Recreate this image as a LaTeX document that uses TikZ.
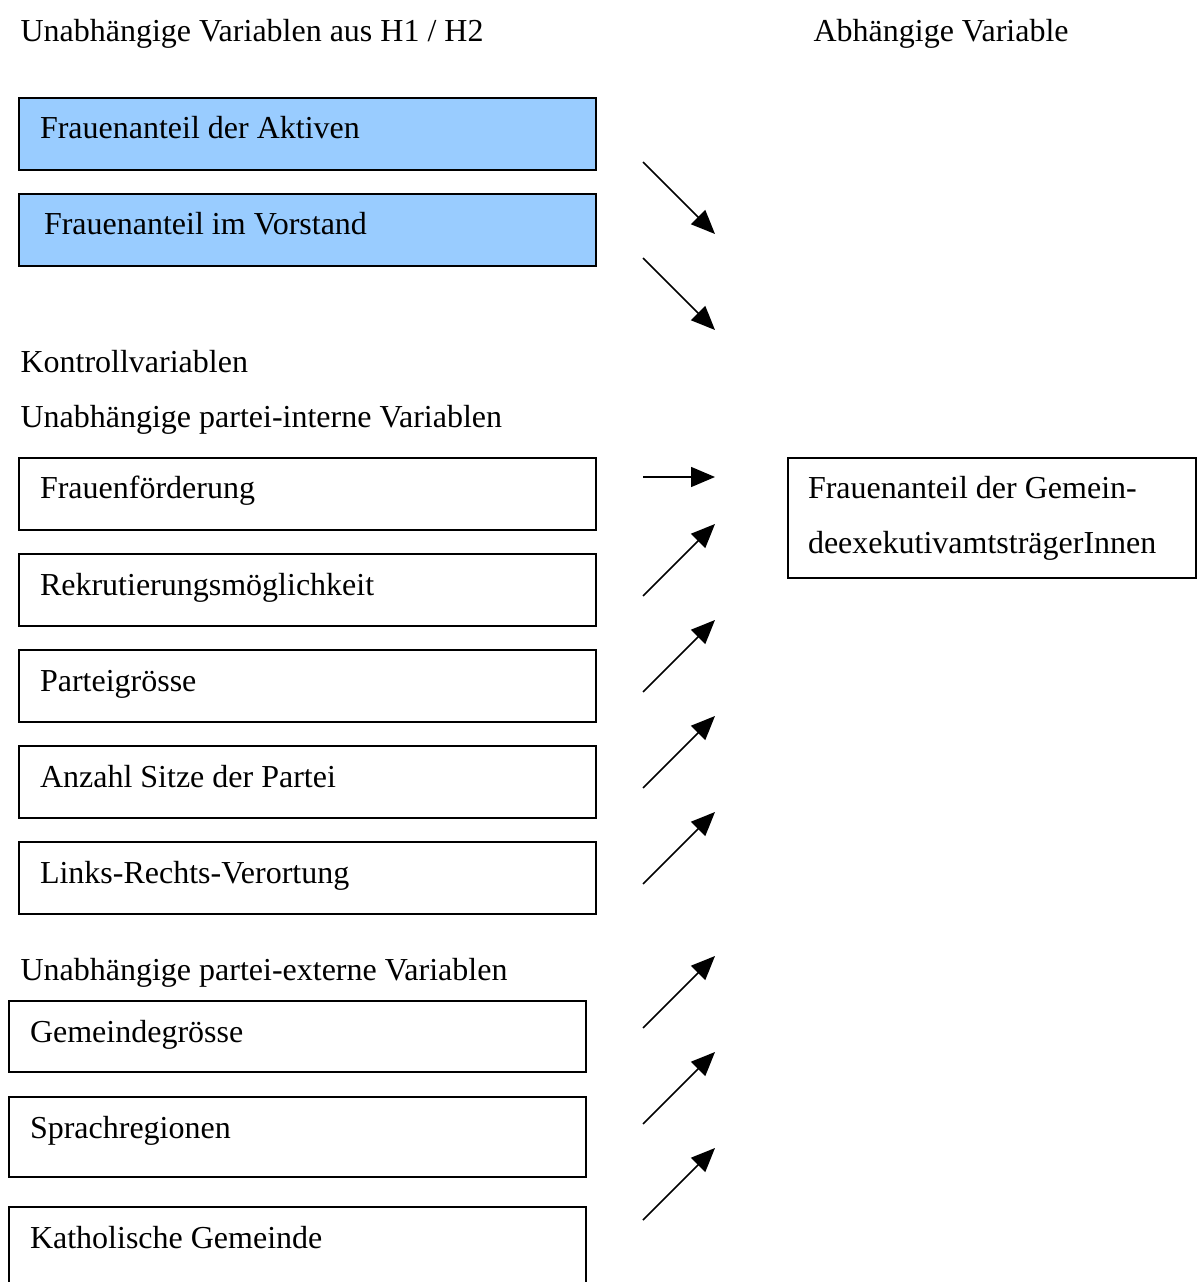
\documentclass[tikz,border=0pt]{standalone}
\usepackage{fontspec}
\setmainfont{Liberation Serif}
\usetikzlibrary{arrows.meta}

\definecolor{hypblue}{HTML}{99CCFF}

% 1 px of the layout = 0.375pt
\tikzset{
  varbox/.style={draw, line width=0.75pt, anchor=north west, outer sep=0pt,
    inner xsep=7.875pt, inner ysep=0pt, text width=200.625pt, align=flush left,
    text height=15.375pt, text depth=11.625pt},
  hyp/.style={varbox, fill=hypblue},
  heading/.style={anchor=base west, inner sep=0pt},
  effect/.style={line width=0.56pt, -{Triangle[length=9pt, width=7.5pt]}}
}

\begin{document}
\begin{tikzpicture}[x=0.375pt, y=-0.375pt, font=\fontsize{12pt}{14.4pt}\selectfont]
    \useasboundingbox (0, 0) rectangle (1197, 1282);
    \clip (0, 0) rectangle (1197, 1282);

    \node[heading] (unabh) at (20, 42) {Unabhängige Variablen aus H1 / H2};
    \node[heading] (abh) at (813, 42) {Abhängige Variable};

    \node[hyp] (aktive) at (19, 98) {Frauenanteil der Aktiven};
    \node[hyp, inner xsep=9.375pt, text width=197.625pt] (vorstand) at (19, 194) {Frauenanteil im Vorstand};

    \node[heading] (kontroll) at (20, 373) {Kontrollvariablen};
    \node[heading] (intern) at (20, 428) {Unabhängige partei-interne Variablen};

    \node[varbox] (foerderung) at (19, 458) {Frauenförderung};
    \node[varbox] (rekrut) at (19, 554) {Rekrutierungsmöglichkeit};
    \node[varbox] (groesse) at (19, 650) {Parteigrösse};
    \node[varbox] (sitze) at (19, 746) {Anzahl Sitze der Partei};
    \node[varbox] (links) at (19, 842) {Links-Rechts-Verortung};

    \node[heading] (extern) at (20, 980) {Unabhängige partei-externe Variablen};

    \node[varbox, text depth=11.25pt] (gemeinde) at (9, 1001) {Gemeindegrösse};
    \node[varbox, text depth=14.625pt] (sprache) at (9, 1097) {Sprachregionen};
    \node[varbox, text depth=30pt] (katholisch) at (9, 1207) {Katholische Gemeinde};

    \node[draw, line width=0.75pt, anchor=north west, outer sep=0pt,
      inner xsep=7.5pt, inner ysep=0pt, text width=138pt, align=flush left,
      minimum height=45pt, font=\fontsize{12pt}{20.6pt}\selectfont]
      (anteil) at (788, 458) {Frauenanteil der Gemein-\\deexekutivamtsträgerInnen};

    % arrows towards the dependent variable
    \coordinate (a1) at (643, 162); \coordinate (b1) at (715, 234);
    \coordinate (a2) at (643, 258); \coordinate (b2) at (715, 330);
    \coordinate (a3) at (643, 477); \coordinate (b3) at (715, 477);
    \draw[effect] (a1) -- (b1);
    \draw[effect] (a2) -- (b2);
    \draw[effect] (a3) -- (b3);
    \foreach \y in {596, 692, 788, 884, 1028, 1124, 1220} {
      \coordinate (s\y) at (643, \y);
      \coordinate (e\y) at (715, \y-72);
      \draw[effect] (s\y) -- (e\y);
    }
  \end{tikzpicture}
\end{document}
